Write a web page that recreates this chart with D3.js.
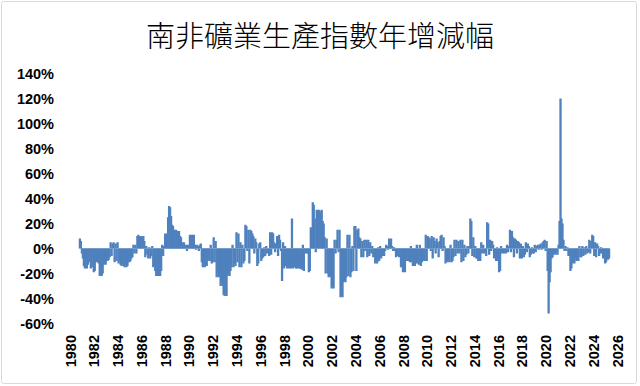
<!DOCTYPE html>
<html><head><meta charset="utf-8">
<script src="https://cdn.jsdelivr.net/npm/d3@7"></script>
<style>body{margin:0;background:#fff}svg{display:block}</style>
</head><body><svg id="c" width="640" height="386"></svg>
<script>
const chartTitle = "南非礦業生產指數年增減幅";
const startYear = 1980, startMonth = 11; // first monthly observation: Nov 1980
// Monthly YoY change (%), read from the picture
const yoy1980s = [
  8, 6,
  -4, -8, -14, -16, -15, -16, -13, -11, -10, -16, -15, -9,
  -19, -18, -11, -10, -11, -12, -22, -21, -22, -20, -13, -12,
  -13, -10, -10, -9, -7, 5, -6, 4, 5, -11, 4, -10,
  5, -12, -10, -13, -14, -12, -14, -15, -13, -15, -14, -11,
  -11, -10, -8, -7, 3, -4, 3, -4, 10, 11, 9, 10,
  10, 9, 10, 6, -7, 2, -5, -8, 1, -8, -6, 2,
  -15, -13, -18, -22, -21, -22, -20, -22, -18, 3, -6, 2,
  12, 8, 12, 25, 34, 33, 26, 19, 18, 15, 12, 15,
  14, 12, 14, 10, 9, 5, 3, 5, 2, 3, -2, 3
];
const yoy1990s = [
  2, 11, 10, 11, 8, 11, 3, -1, 3, 2, -2, 3,
  4, -11, -15, -13, -15, -12, -14, -10, -8, -10, 3, -12,
  -11, 9, -11, 6, -23, -20, -23, -22, -30, -27, -30, -37,
  -38, -36, -38, -22, -20, -22, -18, -15, 3, -15, -12, -14,
  13, -11, 12, -15, 5, -15, 3, -12, -10, 19, 18, -2,
  15, -12, 15, 14, 12, 10, -4, 8, 5, -14, -12, 4,
  5, -10, -8, -7, 1, -6, 2, -4, -3, -6, 13, -5,
  13, 12, 5, -3, 4, 10, -6, 11, 7, -2, -26, 5,
  -16, 2, -14, -16, -15, -16, -14, -16, 24, -16, -12, -15,
  -16, -16, -15, -16, -16, -16, -17, 3, -18, -4, -3, -4
];
const yoy2000s = [
  -4, -19, -18, 17, 15, 37, 35, 24, -3, 31, 30, 31,
  30, 28, 31, 22, 20, 9, -20, 8, -20, -23, -22, -23,
  -32, -30, -32, 7, -4, 7, 15, -3, 15, -39, -38, -39,
  -27, -26, -27, -23, 11, -22, 11, -23, -19, 2, -18, 18,
  18, -18, 15, 16, 9, 8, -7, 6, -7, 7, -2, 7,
  -7, 7, -6, 5, -4, 2, -7, -5, -12, -10, -12, 1,
  -10, 2, -8, -6, -5, -6, -2, 3, 2, -1, 8, 6,
  8, 2, -2, 1, -2, -7, -5, -6, -7, -4, -15, -15,
  -19, -18, -19, -10, -8, -10, -9, -11, 2, -11, -14, -13,
  -14, -12, 3, -12, -13, 3, -14, -11, -10, -9, -10, 11
];
const yoy2010s = [
  -10, 10, 9, 8, -2, 10, -8, 9, 6, -4, 8, 5,
  -7, 6, 10, 11, -2, 9, 2, -12, -10, -11, -9, -11,
  3, -11, -10, -7, 7, -6, 7, -4, 6, -4, 7, -11,
  7, -10, 3, -7, -5, 2, -4, 2, 24, 22, -6, 9,
  -7, 2, -8, -8, -10, -9, -10, 5, -4, 3, -4, -3,
  -6, 21, 20, -5, 7, -2, 6, 3, -8, -6, -10, 1,
  -10, -19, -18, 2, -4, -3, -4, -2, -4, 3, -3, 2,
  15, -3, 14, 9, -7, 8, 7, -4, 6, 5, -8, 4,
  -8, 2, -7, -5, 5, -3, 4, 2, -7, -5, 1, -4,
  -4, 3, -3, 2, 3, -1, 3, 4, -1, 5, 6, 7
];
const yoy2020s = [
  -2, 6, -18, -52, -27, -19, -8, -7, -5, -4, -5, -3,
  -5, 3, 22, 120, 24, 20, 7, -2, 2, -2, 1, -6,
  -6, -18, -16, -12, -11, -12, -8, -10, -9, -10, 2, -7,
  -7, 2, -6, 1, -5, 2, -4, -3, 7, -4, 6, 11,
  10, -6, 5, -7, 4, 2, -6, -4, 1, -4, -8, -6,
  -12, -11, -8, -9, -8
];
const yTickValues = [-60, -40, -20, 0, 20, 40, 60, 80, 100, 120, 140];
const xTickYears = [1980, 1982, 1984, 1986, 1988, 1990, 1992, 1994, 1996, 1998, 2000, 2002,
  2004, 2006, 2008, 2010, 2012, 2014, 2016, 2018, 2020, 2022, 2024, 2026];

const values = [].concat(yoy1980s, yoy1990s, yoy2000s, yoy2010s, yoy2020s);
const data = values.map((v, i) => ({ t: startYear + (startMonth - 1 + i) / 12, v }));

const svg = d3.select("#c");
svg.append("rect").attr("x", 1.5).attr("y", 1.5).attr("width", 635).attr("height", 382)
  .attr("rx", 2).attr("fill", "#fff").attr("stroke", "#d9d9d9").attr("stroke-width", 1);

const x = d3.scaleLinear().domain([1980, 2026]).range([70, 617]);
const y = d3.scaleLinear().domain([-60, 140]).range([323.5, 73.5]);

svg.append("text").attr("x", 320).attr("y", 47).attr("text-anchor", "middle")
  .attr("font-family", "'Noto Sans CJK TC','Noto Sans CJK SC',sans-serif")
  .attr("font-weight", 300)
  .attr("font-size", 29).attr("fill", "#000").text(chartTitle);

const bw = 2.3;
svg.append("g").selectAll("rect").data(data).join("rect")
  .attr("x", d => x(d.t) - bw / 2)
  .attr("width", bw)
  .attr("y", d => y(Math.max(0, d.v)))
  .attr("height", d => Math.abs(y(d.v) - y(0)))
  .attr("fill", "#4F81BD");

const fontFam = "'Liberation Sans', Arial, sans-serif";
const yAxis = svg.append("g").attr("transform", "translate(56,0)")
  .call(d3.axisLeft(y).tickValues(yTickValues).tickFormat(d => d + "%").tickSize(0).tickPadding(2));
yAxis.select(".domain").remove();
yAxis.selectAll("text").attr("font-family", fontFam).attr("font-weight", "bold")
  .attr("font-size", 14.5).attr("fill", "#000");

const xAxis = svg.append("g").attr("transform", "translate(0,335)")
  .call(d3.axisBottom(x).tickValues(xTickYears).tickFormat(d3.format("d")).tickSize(0));
xAxis.select(".domain").remove();
xAxis.selectAll("text").attr("font-family", fontFam).attr("font-weight", "bold")
  .attr("font-size", 14.5).attr("fill", "#000")
  .attr("transform", "rotate(-90)").attr("text-anchor", "end")
  .attr("x", 0).attr("y", 0).attr("dy", "0.35em");
</script></body></html>
